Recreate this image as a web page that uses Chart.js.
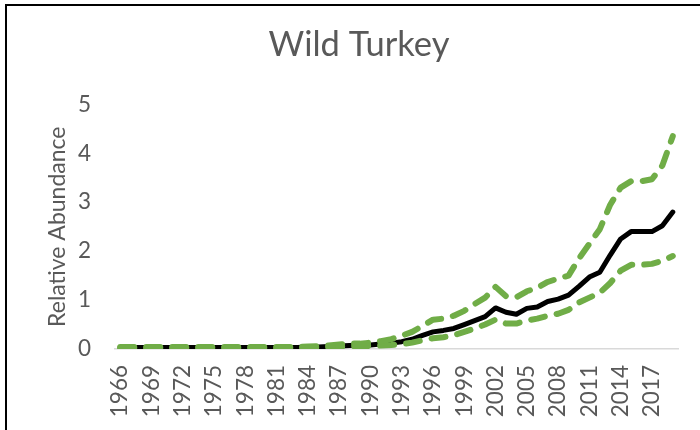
<!DOCTYPE html>
<html>
<head>
<meta charset="utf-8">
<script src="https://cdn.jsdelivr.net/npm/chart.js@4/dist/chart.umd.min.js"></script>
<style>
  html, body { margin: 0; padding: 0; background: #ffffff; }
  #wrap { position: relative; width: 700px; height: 430px; overflow: hidden; }
  #c { position: absolute; left: 0; top: 0; }
  #frame { position: absolute; left: 5px; top: 4px; width: 720px; height: 460px; border: 2px solid #000; box-sizing: border-box; pointer-events: none; }
</style>
</head>
<body>
<div id="wrap">
  <canvas id="c" width="700" height="430"></canvas>
  <div id="frame"></div>
</div>
<script>
const chartTitle = "Wild Turkey";
const yAxisTitle = "Relative Abundance";

const years = [
  "1966","1967","1968","1969","1970","1971","1972","1973","1974","1975",
  "1976","1977","1978","1979","1980","1981","1982","1983","1984","1985",
  "1986","1987","1988","1989","1990","1991","1992","1993","1994","1995",
  "1996","1997","1998","1999","2000","2001","2002","2003","2004","2005",
  "2006","2007","2008","2009","2010","2011","2012","2013","2014","2015",
  "2016","2017","2018","2019"
];

const tickLabels = ["1966","1969","1972","1975","1978","1981","1984","1987","1990",
  "1993","1996","1999","2002","2005","2008","2011","2014","2017"];

const yTicks = [0, 1, 2, 3, 4, 5];

const meanAbundance = [
  0.03,0.03,0.03,0.03,0.03,0.03,0.03,0.03,0.03,0.03,
  0.03,0.03,0.03,0.03,0.03,0.03,0.03,0.03,0.04,0.04,
  0.05,0.06,0.07,0.08,0.08,0.10,0.12,0.15,0.20,0.28,
  0.35,0.38,0.42,0.50,0.58,0.66,0.84,0.75,0.71,0.83,
  0.86,0.97,1.02,1.10,1.28,1.47,1.57,1.92,2.25,2.40,
  2.40,2.40,2.52,2.80
];

const upperLimit = [
  0.04,0.04,0.04,0.04,0.04,0.04,0.04,0.04,0.04,0.04,
  0.04,0.04,0.04,0.04,0.04,0.04,0.04,0.04,0.05,0.06,
  0.07,0.09,0.11,0.11,0.13,0.16,0.20,0.27,0.35,0.47,
  0.60,0.62,0.68,0.78,0.92,1.05,1.27,1.08,1.06,1.18,
  1.25,1.37,1.44,1.50,1.85,2.15,2.45,2.95,3.30,3.43,
  3.43,3.47,3.75,4.35
];

const lowerLimit = [
  0.02,0.02,0.02,0.02,0.02,0.02,0.02,0.02,0.02,0.02,
  0.02,0.02,0.02,0.02,0.02,0.02,0.02,0.02,0.03,0.03,
  0.04,0.05,0.05,0.06,0.06,0.07,0.08,0.10,0.13,0.18,
  0.22,0.24,0.28,0.35,0.42,0.50,0.60,0.52,0.52,0.58,
  0.62,0.68,0.72,0.80,0.95,1.05,1.15,1.35,1.60,1.72,
  1.72,1.74,1.80,1.90
];

const GREEN = "#70AD47";
const TEXT = "#595959";
const FONT = "Lato, 'Open Sans', sans-serif";

const greenStyle = {
  borderColor: GREEN,
  backgroundColor: GREEN,
  borderWidth: 6,
  borderDash: [14, 12],
  borderCapStyle: "round",
  borderJoinStyle: "round",
  pointRadius: 0,
  tension: 0,
  fill: false
};

new Chart(document.getElementById("c"), {
  type: "line",
  data: {
    labels: years,
    datasets: [
      Object.assign({ label: "Upper", data: upperLimit }, greenStyle),
      Object.assign({ label: "Lower", data: lowerLimit }, greenStyle),
      {
        label: "Mean",
        data: meanAbundance,
        borderColor: "#000000",
        backgroundColor: "#000000",
        borderWidth: 5,
        borderCapStyle: "round",
        borderJoinStyle: "round",
        pointRadius: 0,
        tension: 0,
        fill: false
      }
    ]
  },
  options: {
    responsive: false,
    animation: false,
    devicePixelRatio: 1,
    layout: { padding: { top: 24, left: 40, right: 22, bottom: 0 } },
    plugins: {
      legend: { display: false },
      tooltip: { enabled: false },
      title: {
        display: true,
        text: chartTitle,
        color: TEXT,
        font: { family: FONT, size: 34.5, weight: "normal" },
        padding: { top: 0, bottom: 39 }
      }
    },
    scales: {
      x: {
        offset: true,
        grid: { display: false, drawTicks: false },
        border: { display: true, color: "#D9D9D9", width: 1.5 },
        ticks: {
          autoSkip: false,
          minRotation: 90,
          maxRotation: 90,
          padding: 16,
          color: TEXT,
          font: { family: FONT, size: 22.5 },
          callback: function (value, index) {
            const lab = this.getLabelForValue(value);
            return tickLabels.includes(lab) ? lab : "";
          }
        },
        afterFit: function (scale) {
          scale.height = 81;
          scale.paddingLeft = 0;
          scale.paddingRight = 0;
        }
      },
      y: {
        min: 0,
        max: 5,
        grid: { display: false, drawTicks: false },
        border: { display: false },
        afterBuildTicks: function (scale) {
          scale.ticks = yTicks.map(v => ({ value: v }));
        },
        ticks: {
          padding: 24,
          color: TEXT,
          font: { family: FONT, size: 22.5 }
        },
        title: {
          display: true,
          text: yAxisTitle,
          color: TEXT,
          font: { family: FONT, size: 23 },
          padding: { top: 4, bottom: 0 }
        },
        afterFit: function (scale) { scale.width = 75; }
      }
    }
  }
});
</script>
</body>
</html>
